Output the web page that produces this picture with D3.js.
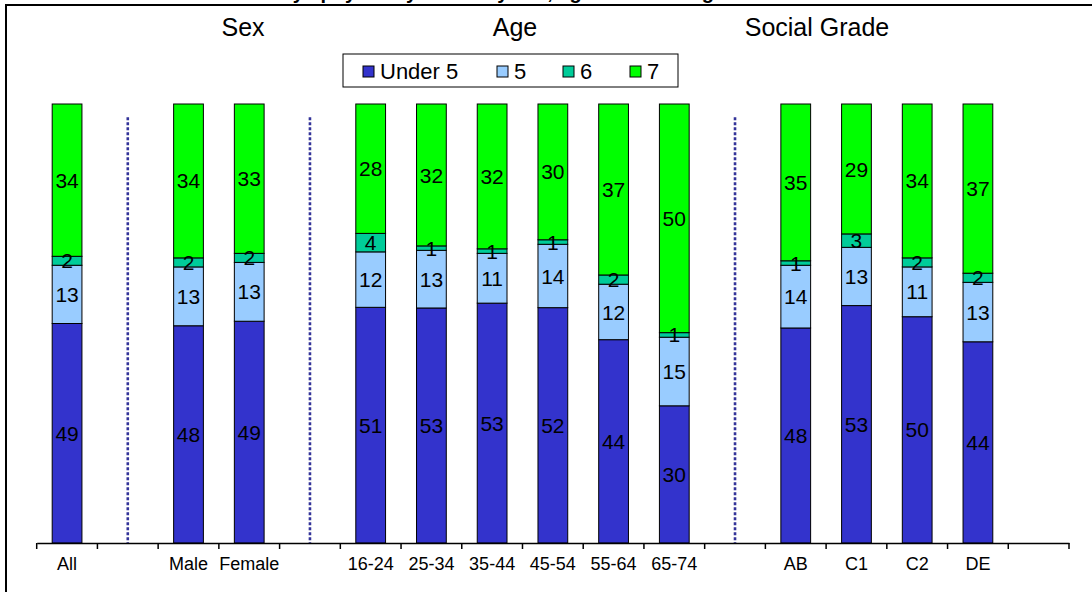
<!DOCTYPE html>
<html>
<head>
<meta charset="utf-8">
<script src="https://cdn.jsdelivr.net/npm/d3@7"></script>
<style>
  html, body { margin: 0; padding: 0; background: #ffffff; }
  svg { display: block; font-family: "Liberation Sans", Arial, sans-serif; }
</style>
</head>
<body>
<svg id="chart" width="1092" height="592"></svg>
<script>
// ---- data ----
const slots = ["All", "", "Male", "Female", "", "16-24", "25-34", "35-44", "45-54", "55-64", "65-74", "", "AB", "C1", "C2", "DE", ""];
const categories = ["All", "Male", "Female", "16-24", "25-34", "35-44", "45-54", "55-64", "65-74", "AB", "C1", "C2", "DE"];
const under5 = [49, 48, 49, 51, 53, 53, 52, 44, 30, 48, 53, 50, 44];
const five   = [13, 13, 13, 12, 13, 11, 14, 12, 15, 14, 13, 11, 13];
const six    = [2, 2, 2, 4, 1, 1, 1, 2, 1, 1, 3, 2, 2];
const seven  = [34, 34, 33, 28, 32, 32, 30, 37, 50, 35, 29, 34, 37];
const seriesNames = ["Under 5", "5", "6", "7"];
const seriesColors = ["#3333CC", "#99CCFF", "#00CC99", "#00FF00"];
const groupHeaders = ["Sex", "Age", "Social Grade"];
const titleText = "Number of days physically active by sex, age and social grade";

// ---- build table ----
const keys = ["u5", "f5", "s6", "s7"];
const table = categories.map((c, i) => ({ cat: c, u5: under5[i], f5: five[i], s6: six[i], s7: seven[i] }));
const stacked = d3.stack().keys(keys).offset(d3.stackOffsetExpand)(table);

const svg = d3.select("#chart");

// frame
svg.append("path")
  .attr("d", "M6,600 L6,5 L1100,5")
  .attr("fill", "none").attr("stroke", "#000").attr("stroke-width", 2);

// title (cut off at top, as in the reference)
svg.append("text")
  .attr("x", 460).attr("y", -1)
  .attr("text-anchor", "middle")
  .attr("font-weight", "bold").attr("font-size", 20)
  .text(titleText);

// scales
const x = d3.scaleBand().domain(d3.range(slots.length)).range([36.7, 1069]).padding(0);
const y = d3.scaleLinear().domain([0, 1]).range([543, 104]);
const slotOf = categories.map(c => slots.indexOf(c));
const bw = x.bandwidth() * 0.49;
const cx = i => x(i) + x.bandwidth() / 2;

// separators
const gapIdx = [1, 4, 11];
svg.append("g").selectAll("line").data(gapIdx).join("line")
  .attr("x1", d => cx(d)).attr("x2", d => cx(d))
  .attr("y1", y(0.97)).attr("y2", y(0))
  .attr("stroke", "#333399").attr("stroke-width", 2.6)
  .attr("stroke-dasharray", "3,2");

// bars
const layers = svg.append("g").selectAll("g").data(stacked).join("g")
  .attr("fill", (d, i) => seriesColors[i]);
layers.selectAll("rect").data(d => d.map((v, j) => ({ v, j }))).join("rect")
  .attr("x", d => cx(slotOf[d.j]) - bw / 2)
  .attr("width", bw)
  .attr("y", d => y(d.v[1]))
  .attr("height", d => y(d.v[0]) - y(d.v[1]))
  .attr("stroke", "#000").attr("stroke-width", 1);

// value labels
const lbl = svg.append("g").attr("font-size", 21).attr("fill", "#000").attr("text-anchor", "middle");
stacked.forEach((layer, si) => {
  layer.forEach((v, j) => {
    lbl.append("text")
      .attr("x", cx(slotOf[j]))
      .attr("y", (y(v[0]) + y(v[1])) / 2)
      .attr("dy", "0.36em")
      .text(v.data[keys[si]]);
  });
});

// x axis
const axis = d3.axisBottom(x).tickSize(0).tickPadding(14).tickFormat(i => slots[i]);
const ag = svg.append("g").attr("transform", `translate(0,${y(0)})`).call(axis);
ag.select(".domain").attr("stroke", "#000").attr("stroke-width", 1.5);
ag.selectAll("text").attr("font-size", 18).attr("fill", "#000").attr("font-family", "Liberation Sans, Arial, sans-serif");
const bounds = d3.range(slots.length).map(i => x(i)).concat([x.range()[1]]);
ag.append("g").selectAll("line").data(bounds).join("line")
  .attr("x1", d => d).attr("x2", d => d).attr("y1", 0).attr("y2", 6)
  .attr("stroke", "#000").attr("stroke-width", 1.5);

// group headers
const headerX = [243, 515, 817];
svg.append("g").selectAll("text").data(groupHeaders).join("text")
  .attr("x", (d, i) => headerX[i]).attr("y", 36)
  .attr("text-anchor", "middle").attr("font-size", 25).attr("fill", "#000")
  .text(d => d);

// legend
const lg = svg.append("g");
lg.append("rect").attr("x", 343).attr("y", 54).attr("width", 335).attr("height", 33)
  .attr("fill", "#fff").attr("stroke", "#000").attr("stroke-width", 1);
const legX = [363, 497, 563, 630];
const items = lg.selectAll("g.item").data(seriesNames).join("g").attr("class", "item")
  .attr("transform", (d, i) => `translate(${legX[i]},0)`);
items.append("rect").attr("x", 0).attr("y", 66).attr("width", 11).attr("height", 11)
  .attr("fill", (d, i) => seriesColors[i]).attr("stroke", "#000").attr("stroke-width", 1);
items.append("text").attr("x", 17).attr("y", 79).attr("font-size", 22).attr("fill", "#000")
  .text(d => d);
</script>
</body>
</html>
